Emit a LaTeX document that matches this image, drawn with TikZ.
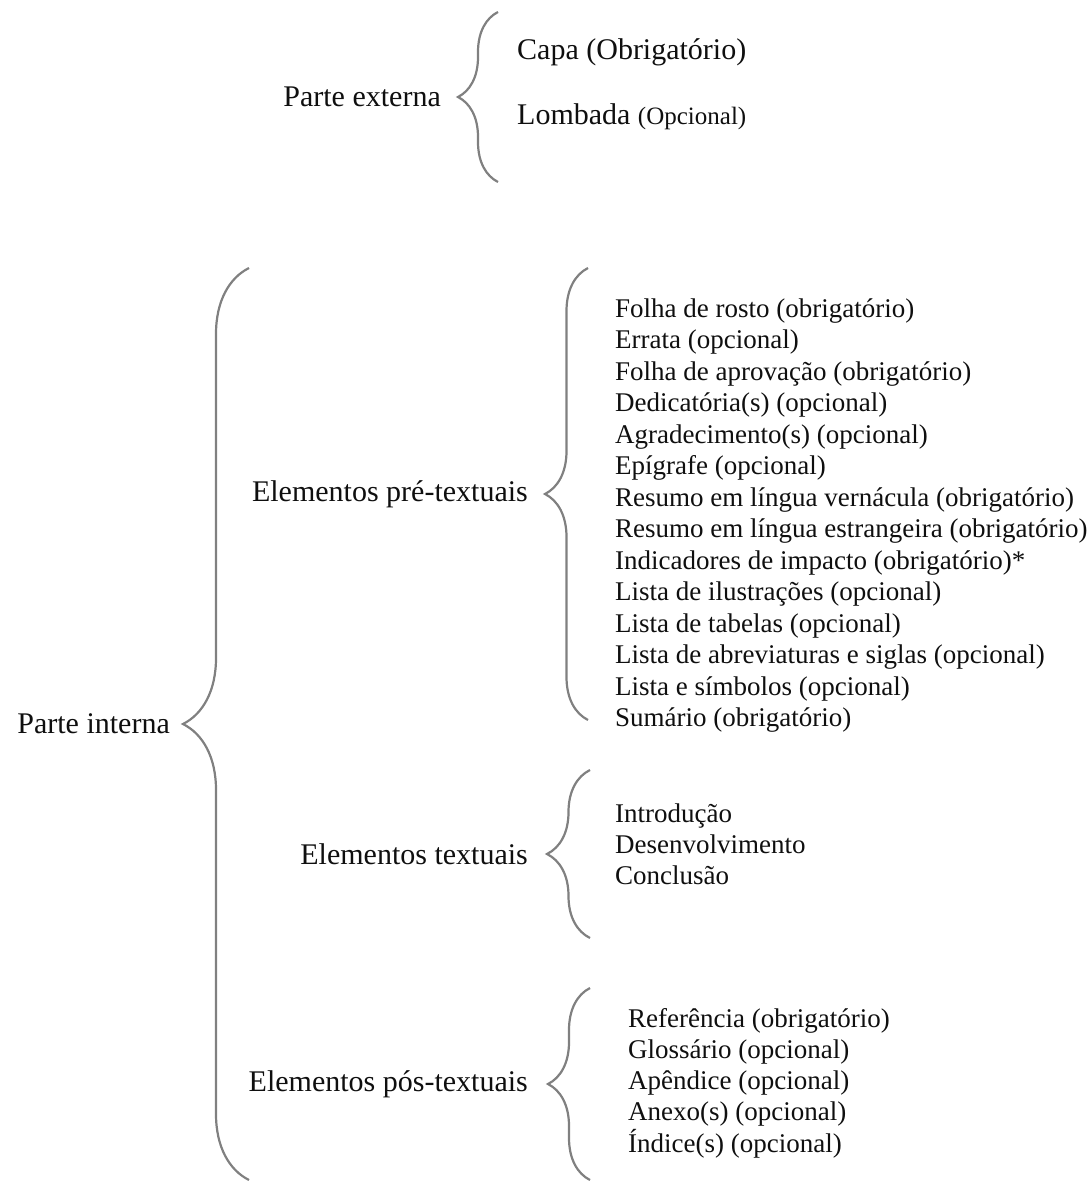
\documentclass[tikz,border=0pt]{standalone}
\usepackage{fontspec}
\setmainfont{Liberation Serif}
\usetikzlibrary{positioning,decorations.pathreplacing}
\definecolor{bracegray}{RGB}{128,128,128}
\definecolor{textdark}{RGB}{15,15,15}

\tikzset{
  chave/.style={decorate, decoration={brace, amplitude=#1}, draw=bracegray, line width=2.2pt},
  rotulo/.style={inner sep=0pt, font=\fontsize{30}{36}\selectfont, text=textdark},
  elemento/.style={inner sep=0pt, anchor=mid west, font=\fontsize{27}{31.5}\selectfont, text=textdark},
}

\begin{document}
\begin{tikzpicture}[x=1pt, y=-1pt]
    \useasboundingbox (0,0) rectangle (1089,1183);

    % Parte externa
    \coordinate (extTop) at (498,12);
    \coordinate (extBot) at (498,182);
    \coordinate (extTip) at (458,97);
    \draw[chave=40] (extBot) -- (extTop);
    \node[rotulo, left=17pt of extTip] (externa) {Parte externa};
    \node[rotulo, anchor=mid west] (capa) at (517,57) {Capa (Obrigatório)};
    \node[rotulo, anchor=mid west] (lombada) at (517,122) {Lombada {\fontsize{25}{30}\selectfont(Opcional)}};

    % Parte interna
    \coordinate (intTop) at (249,268);
    \coordinate (intBot) at (249,1180);
    \coordinate (intTip) at (183,724);
    \draw[chave=66] (intBot) -- (intTop);
    \node[rotulo, left=13pt of intTip] (interna) {Parte interna};

    % Elementos pre-textuais
    \coordinate (preTop) at (588,268);
    \coordinate (preBot) at (588,720);
    \coordinate (preTip) at (545,494);
    \draw[chave=43] (preBot) -- (preTop);
    \node[rotulo, left=17pt of preTip] (pretext) {Elementos pré-textuais};
    \foreach \t [count=\i] in {Folha de rosto (obrigatório), Errata (opcional),
        Folha de aprovação (obrigatório), Dedicatória(s) (opcional),
        Agradecimento(s) (opcional), Epígrafe (opcional),
        Resumo em língua vernácula (obrigatório),
        Resumo em língua estrangeira (obrigatório),
        Indicadores de impacto (obrigatório)*, Lista de ilustrações (opcional),
        Lista de tabelas (opcional), Lista de abreviaturas e siglas (opcional),
        Lista e símbolos (opcional), Sumário (obrigatório)} {
        \node[elemento] (pre-\i) at (615,315+31.5*\i-31.5) {\t};
    }

    % Elementos textuais
    \coordinate (texTop) at (590,770);
    \coordinate (texBot) at (590,938);
    \coordinate (texTip) at (547,854);
    \draw[chave=43] (texBot) -- (texTop);
    \node[rotulo, left=19pt of texTip] (textuais) {Elementos textuais};
    \foreach \t [count=\i] in {Introdução, Desenvolvimento, Conclusão} {
        \node[elemento] (tex-\i) at (615,820+31*\i-31) {\t};
    }

    % Elementos pos-textuais
    \coordinate (posTop) at (590,988);
    \coordinate (posBot) at (590,1180);
    \coordinate (posTip) at (548,1084);
    \draw[chave=42] (posBot) -- (posTop);
    \node[rotulo, left=20pt of posTip] (postext) {Elementos pós-textuais};
    \foreach \t [count=\i] in {Referência (obrigatório), Glossário (opcional),
        Apêndice (opcional), Anexo(s) (opcional), Índice(s) (opcional)} {
        \node[elemento] (pos-\i) at (628,1025+31.2*\i-31.2) {\t};
    }
\end{tikzpicture}
\end{document}
